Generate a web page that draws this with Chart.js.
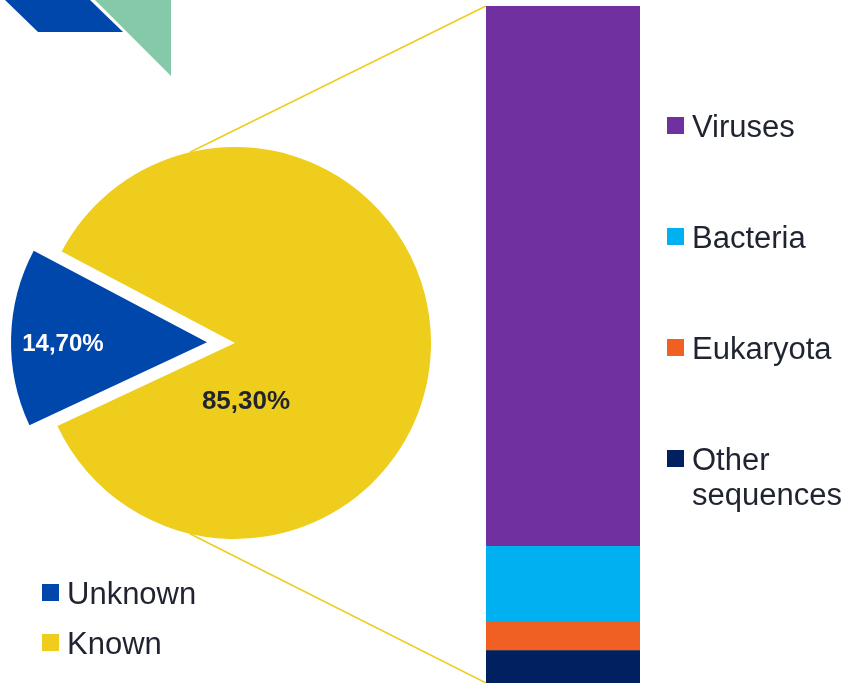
<!DOCTYPE html>
<html><head><meta charset="utf-8">
<script src="https://cdn.jsdelivr.net/npm/chart.js@4.4.1/dist/chart.umd.min.js"></script>
<style>
html,body{margin:0;padding:0;background:#fff;}
#wrap{position:relative;width:850px;height:683px;overflow:hidden;font-family:"Liberation Sans",Arial,sans-serif;}
canvas{position:absolute;}
.lg{position:absolute;font-size:31px;line-height:31px;color:#1f2430;white-space:nowrap;}
.sw{position:absolute;width:17px;height:17px;}
</style></head><body>
<div id="wrap">
<canvas id="deco" width="850" height="683" style="left:0;top:0"></canvas>
<canvas id="pie" width="470" height="470" style="left:0;top:108px"></canvas>
<canvas id="bar" width="154" height="677" style="left:486px;top:6px"></canvas>
</div>
<script>
// ---- data ----
const pieLabels = ['Unknown', 'Known'];
const pieValues = [14.7, 85.3];
const pieColors = ['#0047AB', '#EECD1C'];
const barLabels = ['Viruses', 'Bacteria', 'Eukaryota', 'Other sequences'];
const barValues = [79.8, 11.2, 4.2, 4.8];
const barColors = ['#7030A0', '#00B0F0', '#F06022', '#002060'];

const fmt = v => v.toFixed(2).replace('.', ',') + '%';
const pieTotal = pieValues.reduce((a, b) => a + b, 0);
const firstSliceDeg = pieValues[0] / pieTotal * 360;
const explode = [28, 0];

const explodePlugin = {
  id: 'explode',
  afterDatasetsUpdate(chart) {
    const meta = chart.getDatasetMeta(0);
    meta.data.forEach((arc, i) => {
      const d = explode[i] || 0;
      if (!d) return;
      const mid = (arc.startAngle + arc.endAngle) / 2;
      arc.x += Math.cos(mid) * d;
      arc.y += Math.sin(mid) * d;
    });
  }
};
const pieLabelPlugin = {
  id: 'pieLabels',
  afterDatasetsDraw(chart) {
    const ctx = chart.ctx;
    const meta = chart.getDatasetMeta(0);
    ctx.save();
    ctx.textAlign = 'center';
    ctx.textBaseline = 'alphabetic';
    // Unknown
    const a0 = meta.data[0];
    ctx.font = 'bold 24px "Liberation Sans", Arial, sans-serif';
    ctx.fillStyle = '#ffffff';
    ctx.fillText(fmt(pieValues[0]), a0.x - a0.outerRadius * 0.735, a0.y + 8.6);
    // Known
    const a1 = meta.data[1];
    ctx.font = 'bold 26px "Liberation Sans", Arial, sans-serif';
    ctx.fillStyle = '#1f2430';
    ctx.fillText(fmt(pieValues[1]), a1.x + a1.outerRadius * 0.056, a1.y + a1.outerRadius * 0.29 + 9.3);
    ctx.restore();
  }
};

const pieChart = new Chart(document.getElementById('pie'), {
  type: 'pie',
  data: { labels: pieLabels, datasets: [{ data: pieValues, backgroundColor: pieColors, borderWidth: 0 }] },
  options: {
    responsive: false, animation: false, events: [],
    rotation: 270 - firstSliceDeg / 2 + 1.4,
    radius: 196,
    layout: { padding: 0 },
    plugins: { legend: { display: false }, tooltip: { enabled: false } }
  },
  plugins: [explodePlugin, pieLabelPlugin]
});

const barDatasets = barLabels.map((l, i) => ({
  label: l, data: [barValues[i]], backgroundColor: barColors[i], borderWidth: 0,
  barPercentage: 1, categoryPercentage: 1
})).reverse();
const barChart = new Chart(document.getElementById('bar'), {
  type: 'bar',
  data: { labels: [''], datasets: barDatasets },
  options: {
    responsive: false, animation: false, events: [],
    layout: { padding: 0 },
    scales: {
      x: { stacked: true, display: false },
      y: { stacked: true, display: false, min: 0, max: barValues.reduce((a, b) => a + b, 0) }
    },
    plugins: { legend: { display: false }, tooltip: { enabled: false } }
  }
});

// ---- decoration + connectors ----
const dc = document.getElementById('deco').getContext('2d');
dc.fillStyle = '#0047AB';
dc.beginPath(); dc.moveTo(5, 0); dc.lineTo(90, 0); dc.lineTo(123, 32); dc.lineTo(38, 32); dc.closePath(); dc.fill();
dc.fillStyle = '#86C9A9';
dc.beginPath(); dc.moveTo(95, 0); dc.lineTo(171, 0); dc.lineTo(171, 76); dc.closePath(); dc.fill();

const pieCanvas = document.getElementById('pie'), barCanvas = document.getElementById('bar');
const known = pieChart.getDatasetMeta(0).data[1];
const pcx = pieCanvas.offsetLeft + known.x, pcy = pieCanvas.offsetTop + known.y, pr = known.outerRadius;
const topEl = barChart.getDatasetMeta(barDatasets.length - 1).data[0];
const botEl = barChart.getDatasetMeta(0).data[0];
const bx = barCanvas.offsetLeft + topEl.x - topEl.width / 2;
const byTop = barCanvas.offsetTop + topEl.y;
const byBot = barCanvas.offsetTop + botEl.base;
const ang = 103.3 * Math.PI / 180;
dc.strokeStyle = '#EECD1C';
dc.lineWidth = 1.5;
dc.beginPath();
dc.moveTo(pcx + Math.cos(-ang) * pr, pcy + Math.sin(-ang) * pr); dc.lineTo(bx, byTop);
dc.moveTo(pcx + Math.cos(ang) * pr, pcy + Math.sin(ang) * pr); dc.lineTo(bx, byBot);
dc.stroke();

// ---- legends (HTML text) ----
const wrap = document.getElementById('wrap');
function addLegend(x, baseline, color, lines) {
  const sw = document.createElement('div');
  sw.className = 'sw'; sw.style.background = color;
  sw.style.left = x + 'px'; sw.style.top = (baseline - 20) + 'px';
  wrap.appendChild(sw);
  lines.forEach((t, k) => {
    const d = document.createElement('div');
    d.className = 'lg'; d.textContent = t;
    d.style.left = (x + 25) + 'px';
    d.style.top = (baseline + k * 35 - 26.2) + 'px';
    wrap.appendChild(d);
  });
}
const pieBaselines = [604, 654];
pieLabels.forEach((l, i) => addLegend(42, pieBaselines[i], pieColors[i], [l]));
const barBaselines = [137, 248, 359, 470];
barLabels.forEach((l, i) => addLegend(667, barBaselines[i], barColors[i], l === 'Other sequences' ? ['Other', 'sequences'] : [l]));
</script>
</body></html>
